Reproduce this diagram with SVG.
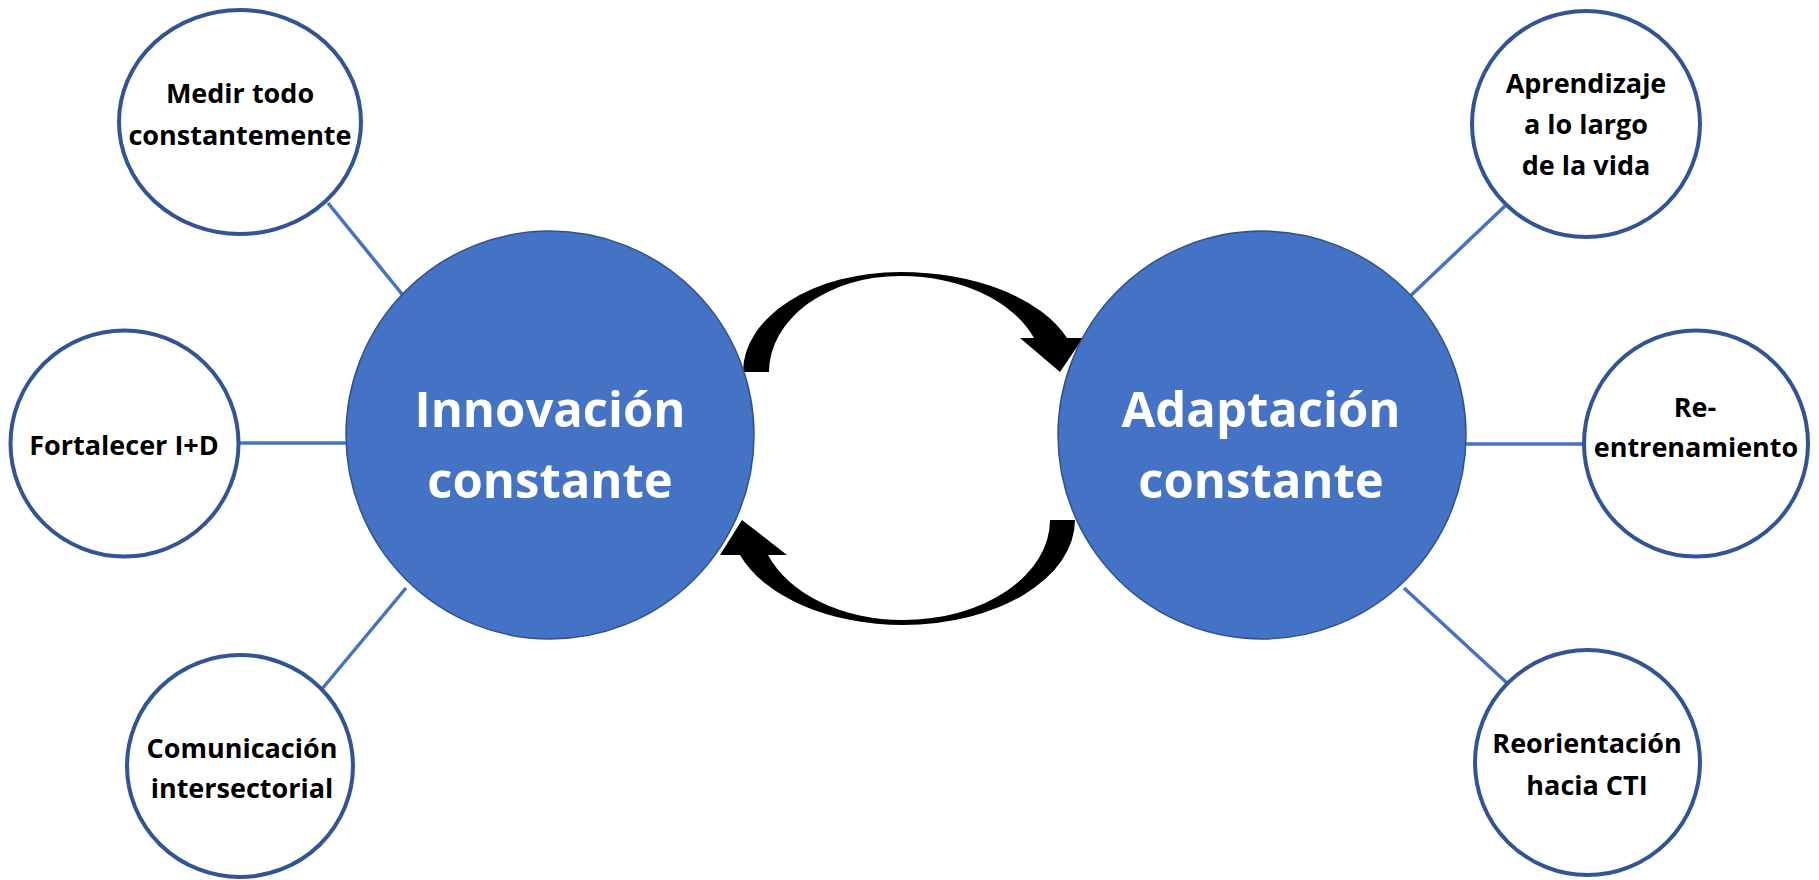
<svg xmlns="http://www.w3.org/2000/svg" width="1819" height="880" viewBox="0 0 1819 880">
<style>
.sat{fill:#ffffff;stroke:#2F5597;stroke-width:4}
.hub{fill:#4472C4;stroke:#2F528F;stroke-width:1.5}
.st{font-family:"Open Sans","Liberation Sans",sans-serif;font-weight:bold;font-size:27px;fill:#000000;text-anchor:middle}
.ht{font-family:"Open Sans","Liberation Sans",sans-serif;font-weight:bold;font-size:49px;fill:#ffffff;text-anchor:middle}
.ln{stroke:#4472C4;stroke-width:3.5;fill:none}
.arr{fill:#000000;stroke:none}
</style>
<rect width="1819" height="880" fill="#ffffff"/>
<g id="connectors">
<line class="ln" x1="328" y1="203" x2="406" y2="299"/>
<line class="ln" x1="236" y1="443" x2="348" y2="443"/>
<line class="ln" x1="322" y1="689" x2="406" y2="588"/>
<line class="ln" x1="1505" y1="206" x2="1404" y2="302"/>
<line class="ln" x1="1465" y1="444" x2="1585" y2="444"/>
<line class="ln" x1="1507" y1="683" x2="1404" y2="588"/>
<path class="arr" d="M 743 372 A 157 100 0 0 1 900 272 A 177 100 0 0 1 1067 338 L 1083 338 L 1060 372 L 1020 338 L 1034 338 A 142 96 0 0 0 900 276 A 131 96 0 0 0 769 372 Z"/>
<path class="arr" d="M 1075 520 A 172 105 0 0 1 903 625 A 173 105 0 0 1 740 555 L 720 555 L 742 520 L 787 555 L 768 555 A 144 100 0 0 0 903 620 A 147 100 0 0 0 1050 520 Z"/>
</g>
<g id="innovacion">
<circle class="hub" cx="550" cy="435" r="204"/>
<text class="ht" x="550" y="427">Innovación</text>
<text class="ht" x="550" y="498">constante</text>
</g>
<g id="adaptacion">
<circle class="hub" cx="1262" cy="435" r="204"/>
<text class="ht" x="1261" y="427">Adaptación</text>
<text class="ht" x="1261" y="498">constante</text>
</g>
<g id="medir">
<ellipse class="sat" cx="240" cy="122" rx="121" ry="112"/>
<text class="st" x="240" y="103">Medir todo</text>
<text class="st" x="240" y="145">constantemente</text>
</g>
<g id="fortalecer">
<ellipse class="sat" cx="124.5" cy="443.5" rx="114" ry="113"/>
<text class="st" x="124" y="455">Fortalecer I+D</text>
</g>
<g id="comunicacion">
<ellipse class="sat" cx="240" cy="766" rx="113" ry="111"/>
<text class="st" x="242" y="758">Comunicación</text>
<text class="st" x="242" y="798">intersectorial</text>
</g>
<g id="aprendizaje">
<ellipse class="sat" cx="1586" cy="124" rx="114" ry="113"/>
<text class="st" x="1586" y="93">Aprendizaje</text>
<text class="st" x="1586" y="134">a lo largo</text>
<text class="st" x="1586" y="175">de la vida</text>
</g>
<g id="reentrenamiento">
<ellipse class="sat" cx="1696" cy="443.5" rx="112" ry="113"/>
<text class="st" x="1695" y="417">Re-</text>
<text class="st" x="1696" y="457">entrenamiento</text>
</g>
<g id="reorientacion">
<ellipse class="sat" cx="1587.5" cy="762.5" rx="112.5" ry="112.5"/>
<text class="st" x="1587" y="753">Reorientación</text>
<text class="st" x="1587" y="795">hacia CTI</text>
</g>
</svg>
